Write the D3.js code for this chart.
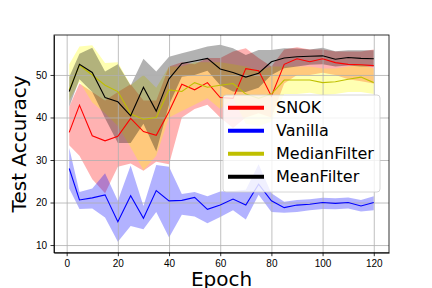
<!DOCTYPE html>
<html>
<head>
<meta charset="utf-8">
<script src="https://cdn.jsdelivr.net/npm/d3@7"></script>
<style>
body { margin: 0; background: white; }
svg { font-family: "DejaVu Sans", sans-serif; }
.axis text { font-size: 10px; fill: #000; }
.axis path, .axis line { stroke: #000; stroke-width: 0.8; }
</style>
</head>
<body>
<script>

const epochs = [1, 5, 10, 15, 20, 25, 30, 35, 40, 45, 50, 55, 60, 65, 70, 75, 80, 85, 90, 95, 100, 105, 110, 115, 120];

const snokMean = [36.5, 42.9, 35.7, 34.5, 35.6, 39.8, 36.7, 35.8, 41.4, 47.8, 46.5, 48.2, 44.7, 44.5, 51.5, 51.0, 45.0, 52.5, 53.8, 53.1, 53.8, 52.9, 52.5, 52.4, 52.2];
const snokLo   = [33.5, 31.0, 25.5, 22.2, 28.4, 29.2, 27.5, 29.6, 29.0, 40.0, 42.0, 43.0, 40.0, 37.5, 40.0, 41.0, 40.0, 48.0, 50.0, 50.0, 50.5, 50.0, 49.0, 48.5, 48.0];
const snokHi   = [42.5, 48.0, 46.0, 44.0, 46.0, 47.8, 44.0, 44.0, 52.0, 53.0, 52.5, 54.0, 54.0, 55.5, 56.3, 54.0, 52.0, 56.0, 56.5, 56.0, 56.0, 55.5, 55.5, 55.5, 56.0];

const vanillaMean = [28.0, 20.6, 21.1, 21.8, 15.5, 21.6, 16.3, 22.8, 20.4, 20.5, 21.2, 18.4, 19.4, 20.8, 19.4, 24.3, 20.4, 18.8, 19.4, 19.6, 20.0, 19.8, 20.0, 19.2, 20.0];
const vanillaLo   = [23.3, 18.5, 18.6, 16.5, 10.8, 14.5, 13.7, 17.8, 11.8, 17.1, 16.7, 15.1, 16.6, 18.2, 16.0, 21.8, 17.8, 17.6, 17.8, 18.2, 18.5, 18.4, 18.6, 17.9, 18.2];
const vanillaHi   = [32.8, 22.5, 23.3, 26.9, 20.4, 28.7, 19.2, 28.8, 28.4, 22.0, 22.5, 21.5, 22.6, 22.7, 23.0, 29.0, 22.2, 20.2, 20.6, 20.8, 21.1, 21.0, 21.2, 20.6, 21.5];

const medianMean = [46.5, 52.3, 50.0, 47.6, 46.1, 40.8, 39.6, 40.0, 46.5, 46.1, 48.2, 47.1, 47.6, 48.0, 45.5, 44.5, 45.5, 48.8, 48.8, 48.8, 48.2, 48.4, 49.0, 49.5, 48.2];
const medianLo   = [44.0, 48.4, 43.5, 41.0, 38.0, 33.0, 27.6, 31.0, 40.0, 41.5, 43.0, 44.5, 42.0, 44.5, 38.5, 38.0, 39.0, 45.5, 45.5, 45.8, 45.3, 45.5, 46.0, 46.0, 45.5];
const medianHi   = [52.5, 56.7, 57.0, 52.8, 53.0, 47.6, 50.0, 47.0, 52.0, 52.0, 53.0, 53.0, 53.0, 52.5, 52.0, 51.0, 52.0, 52.0, 52.0, 52.0, 51.5, 51.5, 52.0, 52.5, 51.5];

const meanFMean = [46.1, 52.5, 50.6, 44.7, 43.7, 40.4, 47.1, 41.5, 49.1, 52.7, 53.3, 53.9, 51.4, 50.6, 49.5, 50.4, 53.1, 54.0, 54.3, 54.4, 54.5, 53.7, 54.1, 53.9, 53.8];
const meanFLo   = [42.5, 49.0, 46.0, 39.8, 34.0, 34.0, 38.5, 32.0, 43.0, 49.6, 50.0, 51.0, 47.6, 46.1, 46.0, 47.0, 50.0, 51.6, 52.0, 52.4, 52.5, 52.0, 52.2, 52.0, 52.0];
const meanFHi   = [49.5, 55.0, 56.4, 50.8, 52.5, 47.5, 53.8, 50.8, 54.3, 55.1, 55.9, 56.7, 57.1, 56.3, 54.7, 55.9, 55.9, 56.3, 56.2, 56.0, 56.4, 55.6, 55.8, 55.8, 55.8];

const xTicks = [0, 20, 40, 60, 80, 100, 120];
const yTicks = [10, 20, 30, 40, 50];

const series = [
  {name: "SNOK", mean: snokMean, lo: snokLo, hi: snokHi, line: "red", fill: "red"},
  {name: "Vanilla", mean: vanillaMean, lo: vanillaLo, hi: vanillaHi, line: "blue", fill: "blue"},
  {name: "MedianFilter", mean: medianMean, lo: medianLo, hi: medianHi, line: "#bfbf00", fill: "yellow"},
  {name: "MeanFilter", mean: meanFMean, lo: meanFLo, hi: meanFHi, line: "black", fill: "black"}
];

const svg = d3.select("body").append("svg")
  .attr("width", 432)
  .attr("height", 288);

const margin = {top: 35, right: 43, bottom: 35.3, left: 54};
const width = 432 - margin.left - margin.right;
const height = 288 - margin.top - margin.bottom;
const g = svg.append("g").attr("transform", `translate(${margin.left}, ${margin.top})`);

const span = 120 - 1;
const x = d3.scaleLinear().domain([1 - 0.05 * span, 120 + 0.05 * span]).range([0, width]);
const y = d3.scaleLinear().domain([8.2, 59.4]).range([height, 0]);

// bands first (matplotlib puts collections under grid and lines)
series.forEach(s => {
  const area = d3.area()
    .x((d, i) => x(epochs[i]))
    .y0((d, i) => y(s.lo[i]))
    .y1((d, i) => y(s.hi[i]));
  g.append("path")
    .datum(s.mean)
    .attr("d", area)
    .attr("fill", s.fill)
    .attr("fill-opacity", 0.3);
});

// grid
g.append("g")
  .attr("transform", `translate(0, ${height})`)
  .call(d3.axisBottom(x).tickValues(xTicks).tickSize(-height).tickFormat(""))
  .call(a => a.select(".domain").remove())
  .selectAll("line").attr("stroke", "#b0b0b0").attr("stroke-width", 0.8);

g.append("g")
  .call(d3.axisLeft(y).tickValues(yTicks).tickSize(-width).tickFormat(""))
  .call(a => a.select(".domain").remove())
  .selectAll("line").attr("stroke", "#b0b0b0").attr("stroke-width", 0.8);

// lines
series.forEach(s => {
  const line = d3.line()
    .x((d, i) => x(epochs[i]))
    .y(d => y(d));
  g.append("path")
    .datum(s.mean)
    .attr("d", line)
    .attr("fill", "none")
    .attr("stroke", s.line)
    .attr("stroke-width", 1.1);
});

// axes
g.append("g")
  .attr("class", "axis")
  .attr("transform", `translate(0, ${height})`)
  .call(d3.axisBottom(x).tickValues(xTicks).tickSize(3.5).tickPadding(3.5).tickSizeOuter(0));

g.append("g")
  .attr("class", "axis")
  .call(d3.axisLeft(y).tickValues(yTicks).tickSize(3.5).tickPadding(3.5).tickSizeOuter(0));

g.append("rect")
  .attr("width", width).attr("height", height)
  .attr("fill", "none").attr("stroke", "#000").attr("stroke-width", 0.8);

// axis labels
svg.append("text")
  .attr("x", margin.left + width / 2)
  .attr("y", 286)
  .attr("text-anchor", "middle")
  .attr("font-size", 20)
  .text("Epoch");

svg.append("text")
  .attr("transform", `translate(26, ${margin.top + height / 2}) rotate(-90)`)
  .attr("text-anchor", "middle")
  .attr("font-size", 20)
  .text("Test Accuracy");

// legend
const leg = svg.append("g").attr("transform", "translate(223, 95)");
leg.append("rect")
  .attr("width", 157).attr("height", 97)
  .attr("rx", 3)
  .attr("fill", "white").attr("fill-opacity", 0.8)
  .attr("stroke", "#cccccc").attr("stroke-width", 0.8);

series.forEach((s, i) => {
  const cy = 12.7 + i * 23;
  leg.append("line")
    .attr("x1", 5).attr("x2", 41)
    .attr("y1", cy).attr("y2", cy)
    .attr("stroke", s.line).attr("stroke-width", 4);
  leg.append("text")
    .attr("x", 53).attr("y", cy)
    .attr("dy", "0.36em")
    .attr("font-size", 16)
    .text(s.name);
});

</script>
</body>
</html>
